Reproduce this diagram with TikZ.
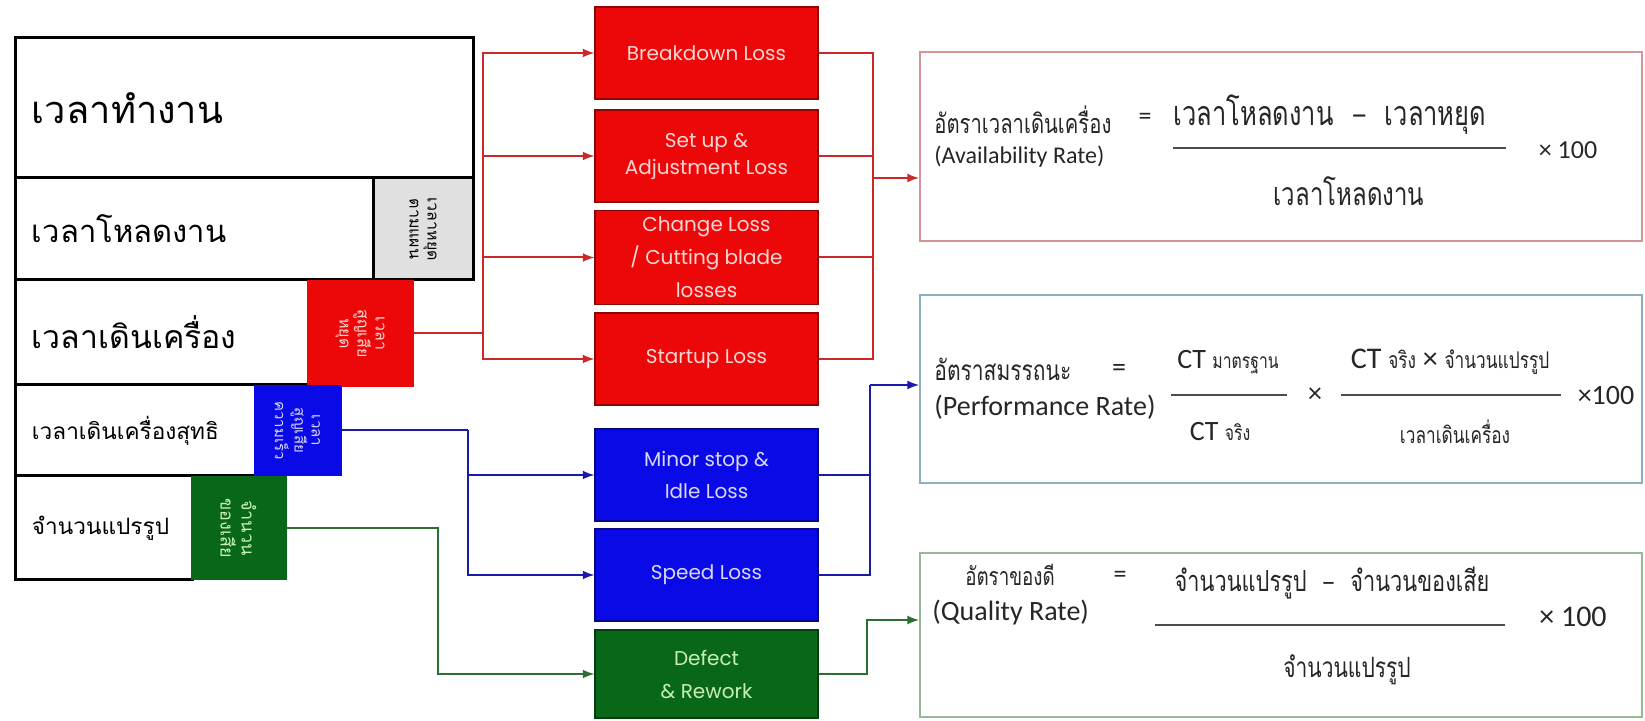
\documentclass[tikz,border=0pt]{standalone}
\usepackage{fontspec}
\setmainfont{Carlito}
\newfontfamily\thaifont[Script=Thai]{Loma}
\newfontfamily\thaicond[Script=Thai,FakeStretch=0.75]{Loma}
\newfontfamily\lossfont{Poppins}
\usetikzlibrary{arrows,calc,positioning}

\definecolor{lossred}{RGB}{236,8,8}
\definecolor{lossblue}{RGB}{10,10,230}
\definecolor{lossgreen}{RGB}{8,104,24}
\definecolor{inkred}{RGB}{255,214,214}
\definecolor{inkblue}{RGB}{215,215,255}
\definecolor{inkgreen}{RGB}{200,240,180}
\definecolor{wirered}{RGB}{205,40,40}
\definecolor{wireblue}{RGB}{25,25,170}
\definecolor{wiregreen}{RGB}{45,110,50}
\definecolor{availframe}{RGB}{215,150,150}
\definecolor{perfframe}{RGB}{140,175,190}
\definecolor{qualframe}{RGB}{150,185,150}

\tikzset{
  rowbox/.style={draw, line width=1.5pt, fill=white, inner xsep=8.5pt, align=left},
  losstag/.style={fill=#1, rotate=-90, align=center, inner sep=1pt,
    font=\thaifont\fontsize{8}{9}\selectfont},
  lossbox/.style={draw=#1!60!black, line width=0.6pt, fill=#1, minimum width=111.5pt,
    minimum height=46pt, align=center, font=\lossfont\fontsize{10}{15}\selectfont},
  ratebox/.style={draw=#1, line width=1pt, fill=white, minimum width=361pt},
  ratetext/.style={inner sep=0pt, text=black!85},
  wire/.style={line width=1pt, #1}
}

\begin{document}
\begin{tikzpicture}[x=0.5pt, y=-0.5pt, >=latex]
  \useasboundingbox (0,0) rectangle (1645,721);

  % time bars
  \node[rowbox, text width=212pt, minimum height=70pt, font=\thaifont\fontsize{19}{22}\selectfont] (worktime) at (244,108) {เวลาทำงาน};
  \node[rowbox, text width=162pt, minimum height=51pt, font=\thaifont\fontsize{15.5}{20}\selectfont] (loadtime) at (194,229) {เวลาโหลดงาน};
  \node[rowbox, text width=129.5pt, minimum height=52.5pt, font=\thaifont\fontsize{16}{20}\selectfont] (runtime) at (161.5,332.5) {เวลาเดินเครื่อง};
  \node[rowbox, text width=103pt, minimum height=45.5pt, font=\thaifont\fontsize{11.3}{14}\selectfont] (nettime) at (135,430.5) {เวลาเดินเครื่องสุทธิ};
  \node[rowbox, text width=71.5pt, minimum height=52pt, font=\thaifont\fontsize{11.3}{14}\selectfont] (output) at (103.5,528) {จำนวนแปรรูป};

  \node[losstag=black!12, draw, line width=1.5pt, minimum width=51pt, minimum height=50pt] (plantag) at (423,229) {เวลาหยุด\\ตามแผน};
  \node[losstag=lossred, text=inkred, minimum width=53.5pt, minimum height=53.5pt] (redtag) at (360,333.5) {เวลา\\สูญเสีย\\หยุด};
  \node[losstag=lossblue, text=inkblue, minimum width=45.5pt, minimum height=44pt, font=\thaifont\fontsize{7.5}{8.5}\selectfont] (bluetag) at (297.5,430.5) {เวลา\\สูญเสีย\\ความเร็ว};
  \node[losstag=lossgreen, text=inkgreen, minimum width=52pt, minimum height=48pt, font=\thaifont\fontsize{9}{10.5}\selectfont] (greentag) at (238.5,528) {จำนวน\\ของเสีย};

  % six big losses
  \node[lossbox=lossred, text=inkred] (breakdown) at (706.5,53) {Breakdown Loss};
  \node[lossbox=lossred, text=inkred, font=\lossfont\fontsize{10}{13.5}\selectfont] (setup) at (706.5,156) {Set up \&\\Adjustment Loss};
  \node[lossbox=lossred, text=inkred, font=\lossfont\fontsize{10}{16.5}\selectfont] (change) at (706.5,257.5) {Change Loss\\/ Cutting blade\\losses};
  \node[lossbox=lossred, text=inkred] (startup) at (706.5,359) {Startup Loss};
  \node[lossbox=lossblue, text=inkblue, font=\lossfont\fontsize{10}{16}\selectfont] (minor) at (706.5,475) {Minor stop \&\\Idle Loss};
  \node[lossbox=lossblue, text=inkblue] (speed) at (706.5,575) {Speed Loss};
  \node[lossbox=lossgreen, text=inkgreen, minimum height=44pt, font=\lossfont\fontsize{10}{16.5}\selectfont] (defect) at (706.5,674) {Defect\\\& Rework};

  % rate boxes
  \node[ratebox=availframe, minimum height=94.5pt] (avail) at (1281,146.5) {};
  \node[ratebox=perfframe, minimum height=94pt] (perf) at (1281,389) {};
  \node[ratebox=qualframe, minimum height=82pt] (qual) at (1281,635) {};

  % wires
  \coordinate (redbus) at (483,333.5);
  \draw[wire=wirered] (redtag.north) -- (redbus);
  \foreach \n in {breakdown,setup,change,startup}
    \draw[wire=wirered,->] (redbus) |- (\n.west);
  \coordinate (redjoin) at (873,178);
  \foreach \n in {breakdown,setup,change,startup}
    \draw[wire=wirered] (\n.east) -| (redjoin);
  \draw[wire=wirered,->] (redjoin) -- (redjoin -| avail.west);

  \coordinate (bluebus) at (468,430.5);
  \draw[wire=wireblue] (bluetag.north) -- (bluebus);
  \draw[wire=wireblue,->] (bluebus) |- (minor.west);
  \draw[wire=wireblue,->] (bluebus) |- (speed.west);
  \coordinate (bluejoin) at (870,385);
  \draw[wire=wireblue] (minor.east) -| (bluejoin);
  \draw[wire=wireblue] (speed.east) -| (bluejoin);
  \draw[wire=wireblue,->] (bluejoin) -- (bluejoin -| perf.west);

  \coordinate (greenbus) at (438,528);
  \draw[wire=wiregreen,->] (greentag.north) -- (greenbus) |- (defect.west);
  \coordinate (greenjoin) at (867,620);
  \draw[wire=wiregreen,->] (defect.east) -| (greenjoin) -- (greenjoin -| qual.west);

  % availability
  \node[ratetext, anchor=west, font=\thaicond\fontsize{13.5}{15}\selectfont] (availth) at (934,120) {อัตราเวลาเดินเครื่อง};
  \node[ratetext, anchor=west, font=\fontsize{12}{14}\selectfont] (availen) at (934,157) {(Availability Rate)};
  \node[ratetext, font=\fontsize{13}{14}\selectfont] (availeq) at (1145,119) {=};
  \node[ratetext, font=\thaicond\fontsize{17}{18}\selectfont] (availnum) at (1330,115) {เวลาโหลดงาน \ {\rmfamily –} \ เวลาหยุด};
  \draw[line width=0.8pt, black!70] (1173,148) -- (1506,148);
  \node[ratetext, font=\thaicond\fontsize{16}{18}\selectfont] (availden) at (1349,191) {เวลาโหลดงาน};
  \node[ratetext, font=\fontsize{13}{14}\selectfont] (availx) at (1568,150) {× 100};

  % performance
  \node[ratetext, anchor=west, font=\thaicond\fontsize{14}{16}\selectfont] (perfth) at (934,369) {อัตราสมรรถนะ};
  \node[ratetext, font=\fontsize{14}{16}\selectfont] (perfeq) at (1119,370) {=};
  \node[ratetext, anchor=west, font=\fontsize{14}{16}\selectfont] (perfen) at (934,407) {(Performance Rate)};
  \node[ratetext, font=\fontsize{14}{16}\selectfont] (ctstd) at (1228,362) {CT {\thaicond\fontsize{10.5}{12}\selectfont มาตรฐาน}};
  \draw[line width=0.8pt, black!70] (1171,395) -- (1287,395);
  \node[ratetext, font=\fontsize{14}{16}\selectfont] (ctreal) at (1220,432) {CT {\thaicond\fontsize{10.5}{12}\selectfont จริง}};
  \node[ratetext, font=\fontsize{14}{16}\selectfont] (perftimes) at (1315,395) {×};
  \node[ratetext, font=\fontsize{15}{16}\selectfont] (perfnum) at (1450,362) {CT {\thaicond\fontsize{11.5}{12}\selectfont จริง} × {\thaicond\fontsize{11.5}{12}\selectfont จำนวนแปรรูป}};
  \draw[line width=0.8pt, black!70] (1341,395) -- (1561,395);
  \node[ratetext, font=\thaicond\fontsize{11.5}{14}\selectfont] (perfden) at (1455,432) {เวลาเดินเครื่อง};
  \node[ratetext, font=\fontsize{14}{16}\selectfont] (perfx) at (1606,396) {×100};

  % quality
  \node[ratetext, font=\thaicond\fontsize{12.5}{14}\selectfont] (qualth) at (1010,575) {อัตราของดี};
  \node[ratetext, font=\fontsize{13}{15}\selectfont] (qualeq) at (1120,577) {=};
  \node[ratetext, anchor=west, font=\fontsize{14}{16}\selectfont] (qualen) at (932,613) {(Quality Rate)};
  \node[ratetext, font=\thaicond\fontsize{14.5}{16}\selectfont] (qualnum) at (1332,583) {จำนวนแปรรูป \ {\rmfamily –} \ จำนวนของเสีย};
  \draw[line width=0.8pt, black!70] (1155,625) -- (1505,625);
  \node[ratetext, font=\thaicond\fontsize{14}{16}\selectfont] (qualden) at (1347,670) {จำนวนแปรรูป};
  \node[ratetext, font=\fontsize{15}{16}\selectfont] (qualx) at (1573,617) {× 100};

\end{tikzpicture}
\end{document}
